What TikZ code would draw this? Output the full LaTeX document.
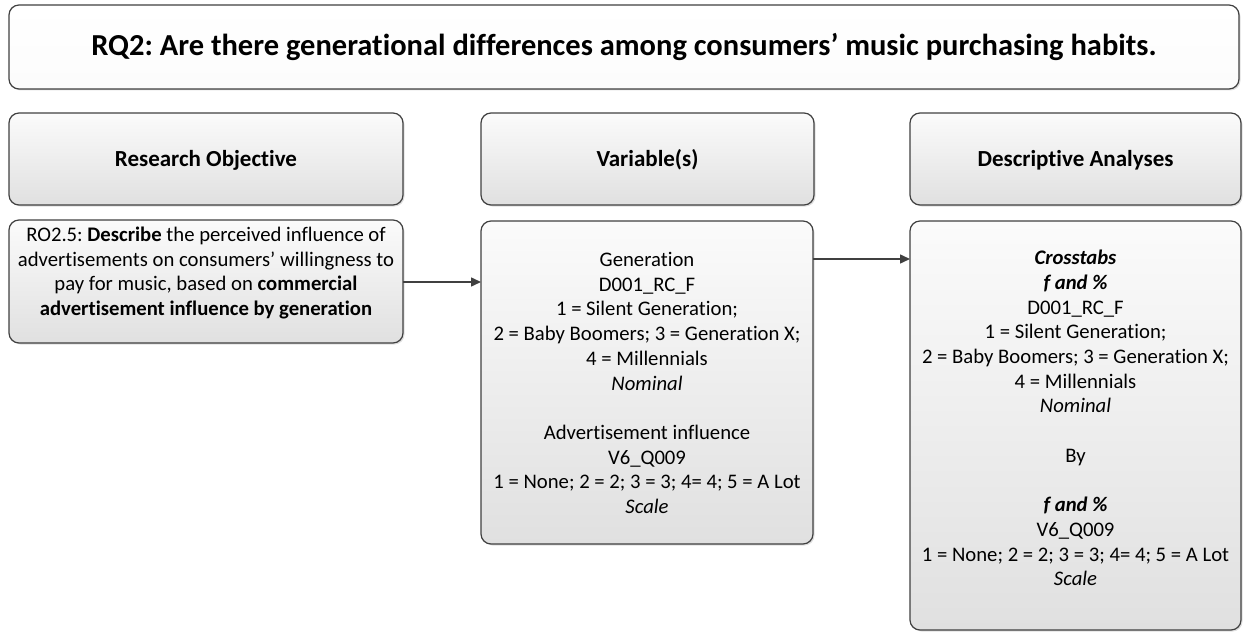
\documentclass[tikz,border=0pt]{standalone}
\usepackage{fontspec}
\setmainfont{Carlito}[Ligatures={NoCommon,NoRare,NoDiscretionary}]
\usetikzlibrary{arrows.meta,shadows,positioning}

\definecolor{edge}{HTML}{404040}
\definecolor{lighttop}{HTML}{FBFBFB}
\definecolor{greybot}{HTML}{E0E0E0}

\tikzset{
  panel/.style={draw=edge, line width=1.2pt, rounded corners=10pt,
    top color=lighttop, bottom color=greybot, anchor=north west,
    inner sep=0pt, outer sep=0pt,
    drop shadow={shadow xshift=1.5pt, shadow yshift=-1.5pt, opacity=0.25, fill=gray}},
  titlepanel/.style={panel, bottom color=white!90!greybot, top color=white},
  bodytext/.style={align=center, inner sep=0pt,
    font=\fontsize{20.7}{24.7}\selectfont},
  headtext/.style={inner sep=0pt, text height=19pt, text depth=4pt,
    font=\fontsize{23}{27}\selectfont\bfseries},
  titletext/.style={inner sep=0pt, text height=23pt, text depth=5pt,
    font=\fontsize{30.5}{36}\selectfont\bfseries}
}
\tikzset{
  flow/.style={draw=edge, line width=1.5pt,
    -{Triangle[length=10pt,width=9pt]}}
}

\begin{document}
\frenchspacing
\begin{tikzpicture}[x=1pt,y=1pt]
  \useasboundingbox (0,0) rectangle (1243,-634);

  % question banner
  \node[titlepanel, minimum width=1230pt, minimum height=84pt] (rq) at (9,-5) {};
  \node[titletext] (rqtext) at (rq.center)
    {RQ2: Are there generational differences among consumers’ music purchasing habits.};

  % column headers
  \node[panel, minimum width=394pt, minimum height=92pt] (hro) at (9,-113) {};
  \node[headtext] (hrotext) at (hro.center) {Research Objective};
  \node[panel, minimum width=333pt, minimum height=92pt] (hvar) at (481,-113) {};
  \node[headtext] (hvartext) at (hvar.center) {Variable(s)};
  \node[panel, minimum width=331pt, minimum height=92pt] (hda) at (910,-113) {};
  \node[headtext] (hdatext) at (hda.center) {Descriptive Analyses};

  % content boxes
  \node[panel, minimum width=394pt, minimum height=123pt] (ro) at (9,-220) {};
  \node[bodytext] (rotext) at (206,-273)
    {RO2.5: \textbf{Describe} the perceived influence of\\
     advertisements on consumers’ willingness to\\
     pay for music, based on \textbf{commercial}\\
     \textbf{advertisement influence by generation}};

  \node[panel, minimum width=332pt, minimum height=323pt] (var) at (481,-221) {};
  \node[bodytext] (vartext) at (647,-383)
    {Generation\\
     D001\_RC\_F\\
     1 = Silent Generation;\\
     2 = Baby Boomers; 3 = Generation X;\\
     4 = Millennials\\
     \textit{Nominal}\\[24.7pt]
     Advertisement influence\\
     V6\_Q009\\
     1 = None; 2 = 2; 3 = 3; 4= 4; 5 = A Lot\\
     \textit{Scale}};

  \node[panel, minimum width=331pt, minimum height=409pt] (da) at (910,-221) {};
  \node[bodytext] (datext) at (1075.5,-418)
    {\textbf{\textit{Crosstabs}}\\
     \textbf{\textit{f and \%}}\\
     D001\_RC\_F\\
     1 = Silent Generation;\\
     2 = Baby Boomers; 3 = Generation X;\\
     4 = Millennials\\
     \textit{Nominal}\\[24.7pt]
     By\\[24.7pt]
     \textbf{\textit{f and \%}}\\
     V6\_Q009\\
     1 = None; 2 = 2; 3 = 3; 4= 4; 5 = A Lot\\
     \textit{Scale}};

  % connectors
  \coordinate (lvl1) at (0,-282);
  \coordinate (lvl2) at (0,-259);
  \draw[flow] (ro.east |- lvl1) -- (var.west |- lvl1);
  \draw[flow] (var.east |- lvl2) -- (da.west |- lvl2);
\end{tikzpicture}
\end{document}
